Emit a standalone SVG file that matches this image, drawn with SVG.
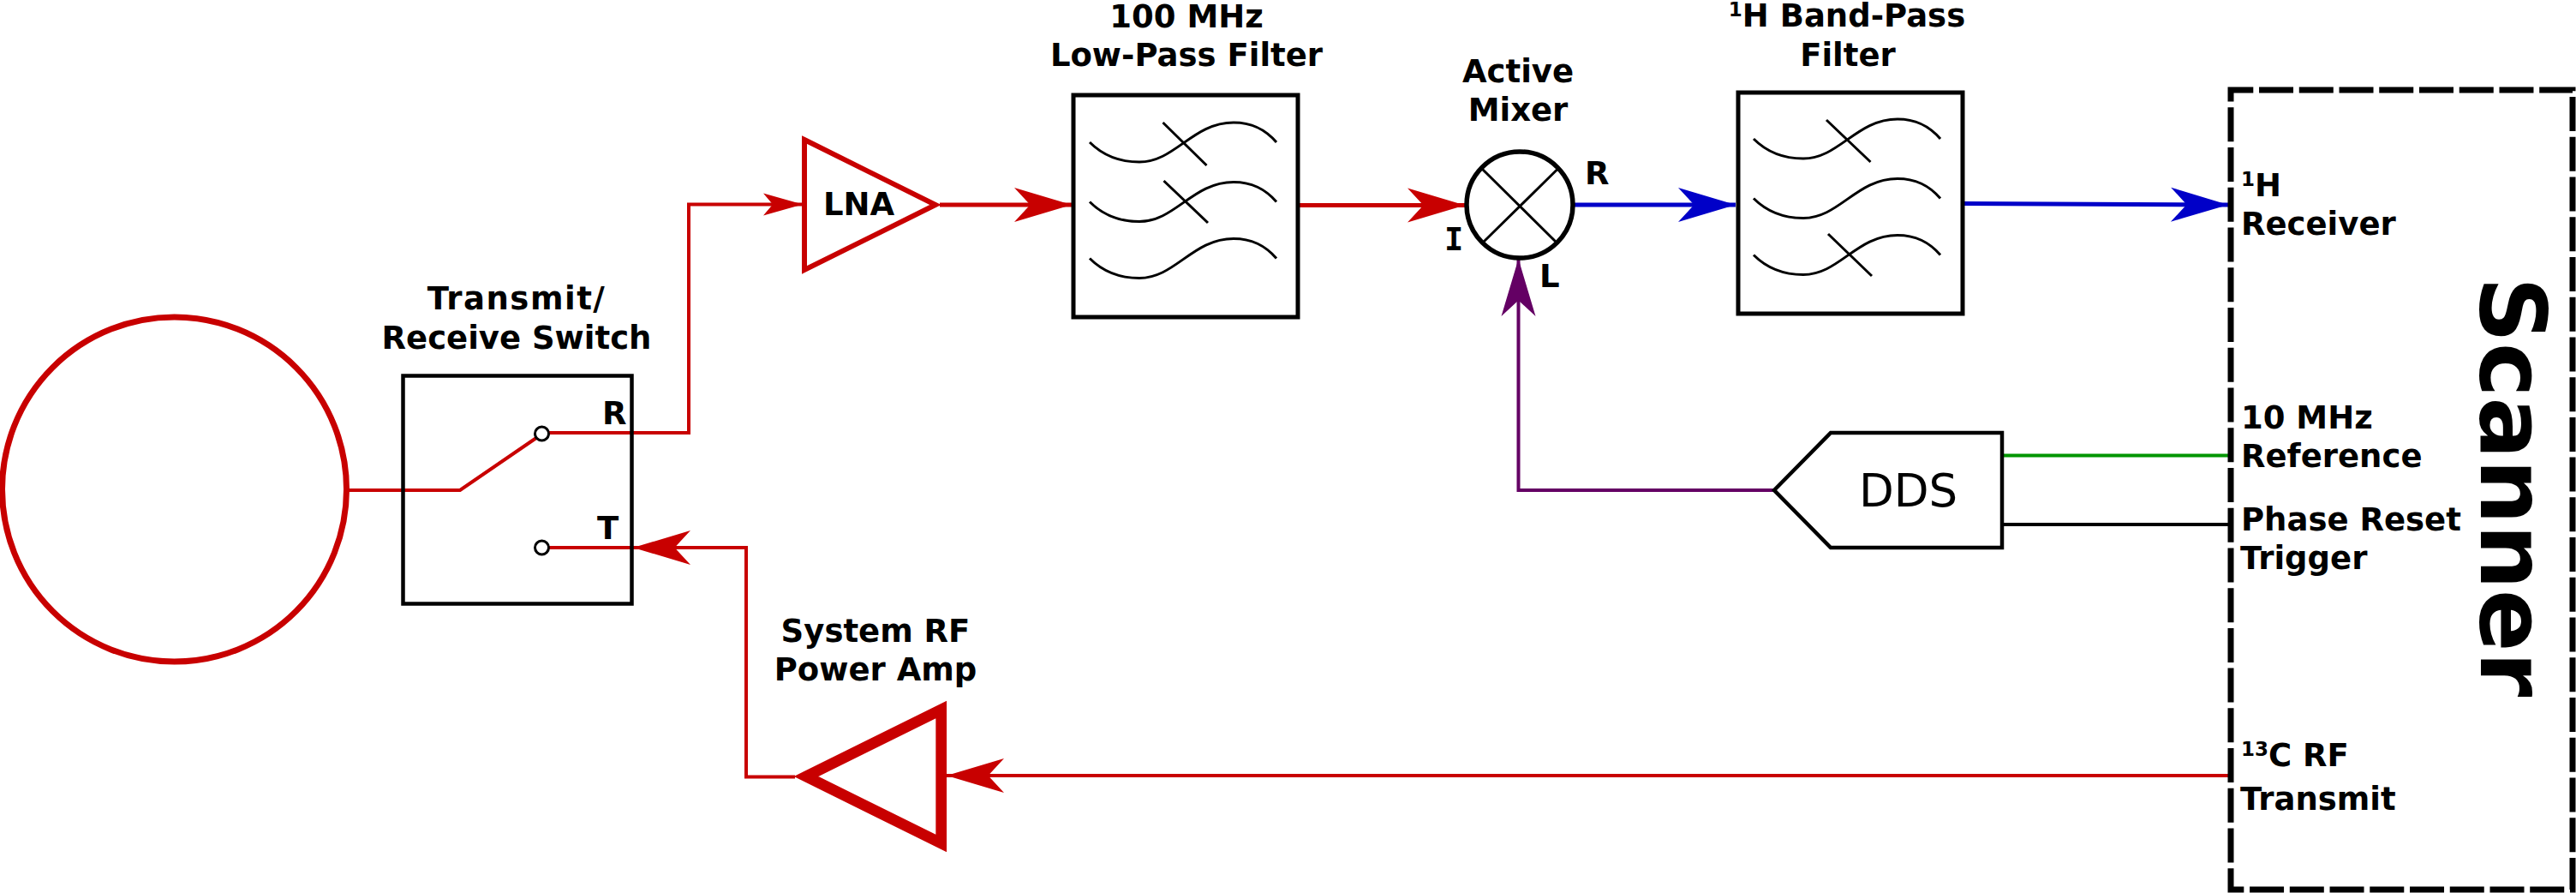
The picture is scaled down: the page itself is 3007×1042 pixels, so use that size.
<svg xmlns="http://www.w3.org/2000/svg" width="3007" height="1042" viewBox="0 0 3007 1042">
<style>
text{font-family:"DejaVu Sans",Verdana,sans-serif;font-weight:700;font-size:37px;fill:#000}
.m{text-anchor:middle}
.box{fill:#fff;stroke:#000;stroke-width:5}
.red{fill:none;stroke:#c80000}
.cv{fill:none;stroke:#000;stroke-width:3}
.w{fill:none;stroke-width:4}
.sup{font-size:23px}
</style>
<defs>
<path id="wave" d="M0,0C15,15 35,23 58,23C100,23 120,-23 168,-23C190,-23 205,-15 218,0"/>
<marker id="ar" markerUnits="userSpaceOnUse" markerWidth="72" markerHeight="44" refX="68" refY="22" orient="auto"><path d="M68,22L1,2L19.500,22L1,42Z" fill="#c80000"/></marker>
<marker id="ars" markerUnits="userSpaceOnUse" markerWidth="50" markerHeight="30" refX="46" refY="14" orient="auto"><path d="M46,14L0,1L11,14L0,27Z" fill="#c80000"/></marker>
<marker id="ab" markerUnits="userSpaceOnUse" markerWidth="72" markerHeight="44" refX="68" refY="22" orient="auto"><path d="M68,22L1,2L19.500,22L1,42Z" fill="#0000c8"/></marker>
<marker id="ap" markerUnits="userSpaceOnUse" markerWidth="72" markerHeight="44" refX="68" refY="22" orient="auto"><path d="M68,22L1,2L19.500,22L1,42Z" fill="#640064"/></marker>
</defs>
<g id="connectors">
<path class="red w" d="M406,572H537L626,511"/>
<path class="red w" d="M641,505H804V238.500H937" marker-end="url(#ars)"/>
<path class="red w" d="M2604,905H1105" marker-end="url(#ar)"/>
<path class="red w" d="M928,906.500H871V639H739" marker-end="url(#ar)"/>
<path class="red w" d="M641,639H738"/>
<path class="red w" style="stroke-width:5" d="M1097,239H1251" marker-end="url(#ar)"/>
<path class="red w" style="stroke-width:5" d="M1516,239.500H1710" marker-end="url(#ar)"/>
<path class="w" stroke="#0000c8" style="stroke-width:5" d="M1838,239H2026" marker-end="url(#ab)"/>
<path class="w" stroke="#0000c8" style="stroke-width:5" d="M2291,237.500L2601,239" marker-end="url(#ab)"/>
<path class="w" stroke="#640064" d="M2070,572H1772.500V302" marker-end="url(#ap)"/>
<path class="w" stroke="#009600" d="M2338,531.500H2604"/>
<path class="w" stroke="#000" d="M2338,612H2604"/>
</g>
<g id="coil"><circle cx="203.500" cy="571" r="201" fill="none" stroke="#c80000" stroke-width="7"/></g>
<g id="switch">
<rect x="470.500" y="438.500" width="267" height="266" fill="none" stroke="#000" stroke-width="4.500"/>
<circle cx="632.500" cy="506" r="8" fill="#fff" stroke="#000" stroke-width="3"/>
<circle cx="632.500" cy="639" r="8" fill="#fff" stroke="#000" stroke-width="3"/>
<text x="703" y="495">R</text><text x="697" y="629">T</text>
<text class="m" x="603" y="361" style="letter-spacing:1.500px">Transmit/</text><text class="m" x="603" y="407">Receive Switch</text>
</g>
<g id="lna">
<path class="red" stroke-width="6" fill="#fff" d="M939,163L1092,239L939,315Z"/>
<text x="961" y="251">LNA</text>
</g>
<g id="lowpass">
<rect class="box" x="1253" y="111" width="262" height="259"/>
<use href="#wave" class="cv" x="1272" y="166"/><use href="#wave" class="cv" x="1272" y="235.500"/><use href="#wave" class="cv" x="1272" y="301.500"/>
<path class="cv" d="M1357.500,143L1408.500,193M1358.500,211L1410,260"/>
<text class="m" x="1385" y="32">100 MHz</text><text class="m" x="1385" y="77">Low-Pass Filter</text>
</g>
<g id="mixer">
<circle cx="1774" cy="239" r="62" fill="#fff" stroke="#000" stroke-width="5.500"/>
<path class="cv" d="M1729,196L1817,283M1819.500,196L1732,282"/>
<text class="m" x="1772" y="96">Active</text><text class="m" x="1772" y="141">Mixer</text>
<text x="1850" y="215">R</text><text x="1797" y="335">L</text>
<text x="1686" y="292" style="font-family:'DejaVu Sans Mono',monospace">I</text>
</g>
<g id="bandpass">
<rect class="box" x="2029" y="108" width="262" height="258"/>
<use href="#wave" class="cv" x="2047" y="162"/><use href="#wave" class="cv" x="2047" y="231.500"/><use href="#wave" class="cv" x="2047" y="297.500"/>
<path class="cv" d="M2132,140L2183.500,189M2134,273L2185,322"/>
<text class="m" x="2156" y="31"><tspan class="sup" dy="-12">1</tspan><tspan dy="12">H Band-Pass</tspan></text><text class="m" x="2157" y="77">Filter</text>
</g>
<g id="dds">
<path fill="#fff" stroke="#000" stroke-width="4.500" d="M2071,572L2137,505H2337V639H2137Z"/>
<text x="2170" y="591" style="font-weight:400;font-size:53px">DDS</text>
</g>
<g id="amp">
<path class="red" stroke-width="12.700" d="M941,906L1098.700,828V984Z"/>
<text class="m" x="1022" y="749">System RF</text><text class="m" x="1022" y="794">Power Amp</text>
</g>
<g id="scanner">
<rect x="2604" y="105" width="399" height="933" fill="none" stroke="#000" stroke-width="7" stroke-dasharray="40 6.740" stroke-dashoffset="13.700"/>
<text transform="translate(2896,323) rotate(90)" style="font-size:107px">Scanner</text>
<text x="2616" y="229"><tspan class="sup" dy="-12">1</tspan><tspan dy="12">H</tspan></text><text x="2616" y="274">Receiver</text>
<text x="2616" y="500">10 MHz</text><text x="2616" y="545">Reference</text>
<text x="2616" y="619">Phase Reset</text><text x="2615" y="664">Trigger</text>
<text x="2616" y="894"><tspan class="sup" dy="-12">13</tspan><tspan dy="12">C RF</tspan></text><text x="2615" y="945">Transmit</text>
</g>
</svg>
